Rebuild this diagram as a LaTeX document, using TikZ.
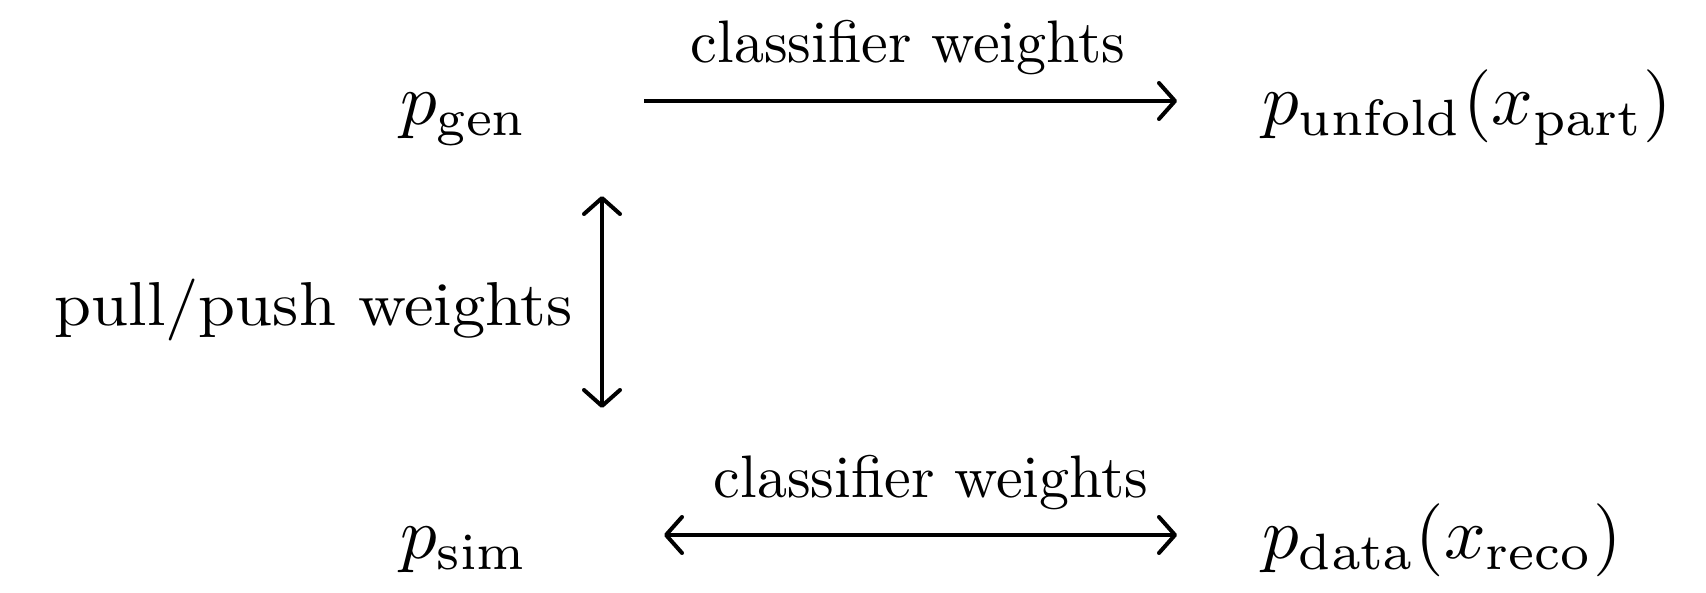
\documentclass[tikz,border=0pt]{standalone}
\usepackage{graphicx}
\usetikzlibrary{arrows.meta}

% labels are set at 10pt and enlarged; formulas a little more than words
\newcommand{\enlarged}[1]{\scalebox{6}{#1}}
\newcommand{\enlargedmath}[1]{\scalebox{7.3}{$#1$}}

\tikzset{
  lbl/.style={inner sep=0pt},
  arr/.style={line width=4pt, -{Straight Barb[length=16pt,width=36pt,round]}},
  darr/.style={line width=4pt, {Straight Barb[length=16pt,width=36pt,round]}-{Straight Barb[length=16pt,width=36pt,round]}}
}

\begin{document}
\begin{tikzpicture}[x=1pt,y=1pt]
  \useasboundingbox (0,0) rectangle (1706,592);

  % the four distributions
  \node[lbl, anchor=base west] (gen)    at (400,467)  {\enlargedmath{p_{\mathrm{gen}}}};
  \node[lbl, anchor=base west] (unfold) at (1262,467) {\enlargedmath{p_{\mathrm{unfold}}(x_{\mathrm{part}})}};
  \node[lbl, anchor=base west] (sim)    at (400,33)   {\enlargedmath{p_{\mathrm{sim}}}};
  \node[lbl, anchor=base west] (data)   at (1262,33)  {\enlargedmath{p_{\mathrm{data}}(x_{\mathrm{reco}})}};

  % arrow labels
  \node[lbl, anchor=base] (topw)  at (908,529) {\enlarged{classifier weights}};
  \node[lbl, anchor=base] (botw)  at (931,94)  {\enlarged{classifier weights}};
  \node[lbl, anchor=base east] (pp) at (573,266) {\scalebox{6.65}[6.2]{pull/push weights}};

  % arrows, kept at a fixed gap from the formulas
  \draw[arr]  ([shift={(244,24)}]gen.base west) -- ([shift={(-85,24)}]unfold.base west);
  \draw[darr] ([shift={(264,24)}]sim.base west) -- ([shift={(-85,24)}]data.base west);
  \draw[darr] ([shift={(202,-71)}]gen.base west) -- ([shift={(202,151)}]sim.base west);
\end{tikzpicture}
\end{document}
